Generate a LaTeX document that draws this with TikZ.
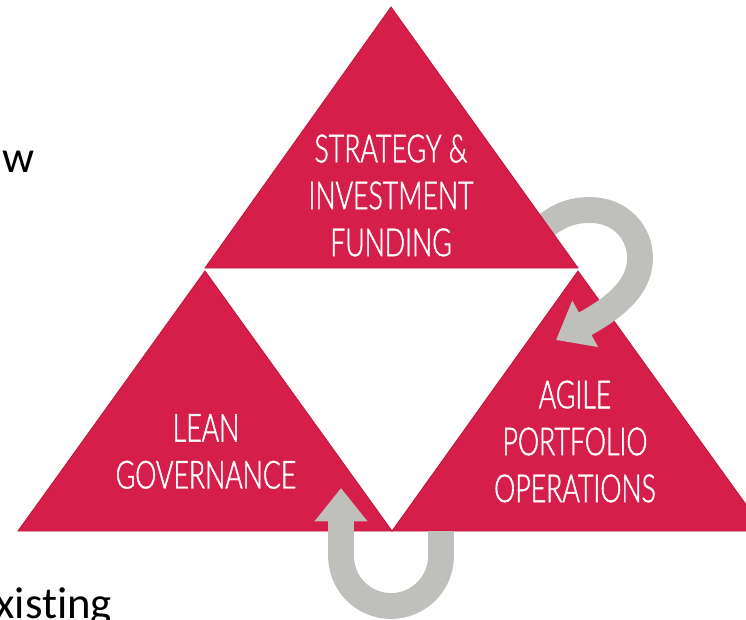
\documentclass[tikz,border=0pt]{standalone}
\usepackage{fontspec}
\usetikzlibrary{arrows.meta}
\newfontfamily\condfont[FakeStretch=0.69, UprightFont={* Light}, FakeBold=1.2]{Lato}
\newfontfamily\bodyfont[Ligatures=NoCommon]{Carlito}
\definecolor{trired}{HTML}{D61E4B}
\definecolor{triedge}{HTML}{C4173F}
\definecolor{loopgray}{HTML}{BFC0BB}

\begin{document}
\begin{tikzpicture}[x=0.02cm, y=-0.02cm]
        % ================= styles =================
        \tikzset{
            % red triangles
            tri/.style={fill=trired, draw=triedge, line width=0.5pt},
            % white labels
            trilabel/.style={text=white, align=center, inner sep=0pt,
                font=\condfont\fontsize{22}{26.7}\selectfont},
            % grey loop arrows
            loop/.style={draw=loopgray, line width=14.7pt,
                -{Triangle[width=29pt, length=19pt]}},
            % black body text
            bodytext/.style={anchor=base west, inner sep=0pt,
                font=\bodyfont\fontsize{25.5}{30}\selectfont}
        }

        \useasboundingbox (0,0) rectangle (746,619);
        \clip (0,0) rectangle (746,619);

        % ================= vertices =================
        \coordinate (t1) at (391,7);
        \coordinate (t2) at (205,268);
        \coordinate (t3) at (578,268);

        \coordinate (l1) at (205,271);
        \coordinate (l2) at (18,531);
        \coordinate (l3) at (392,531);

        \coordinate (r1) at (578,271);
        \coordinate (r2) at (392,531);
        \coordinate (r3) at (765,531);

        % ================= 1. lower triangles =================
        \filldraw[tri] (l1)--(l2)--(l3)--cycle;
        \filldraw[tri] (r1)--(r2)--(r3)--cycle;

        % ================= 2. loop arrows =================
        % upper loop: tail hidden under top triangle
        \coordinate (ua) at (530,240);
        \coordinate (ub) at (556,340);
        \draw[loop] (ua) .. controls (550,220) and (565,210) .. (590,210)
                         .. controls (620,210) and (640,232) .. (640,258)
                         .. controls (640,290) and (610,310) .. (ub);

        % lower loop: U under the two bottom triangles
        \coordinate (la) at (441,531);
        \coordinate (lb) at (341,488);
        \draw[loop] (la) -- (441,556) arc[start angle=0, end angle=180, radius=50] -- (lb);

        % ================= 3. top triangle =================
        \filldraw[tri] (t1)--(t2)--(t3)--cycle;

        % ================= 4. labels =================
        \node[trilabel] (strategy) at (391,195.5) {STRATEGY \&\\INVESTMENT\\FUNDING};
        \node[trilabel] (lean) at (206,451.5) {LEAN\\GOVERNANCE};
        \node[trilabel] (agile) at (575,441.5) {AGILE\\PORTFOLIO\\OPERATIONS};

        \node[bodytext] (wtext) at (2,172) {w};
        \node[bodytext] (xtext) at (-5,618) {xisting};

    \end{tikzpicture}
\end{document}
